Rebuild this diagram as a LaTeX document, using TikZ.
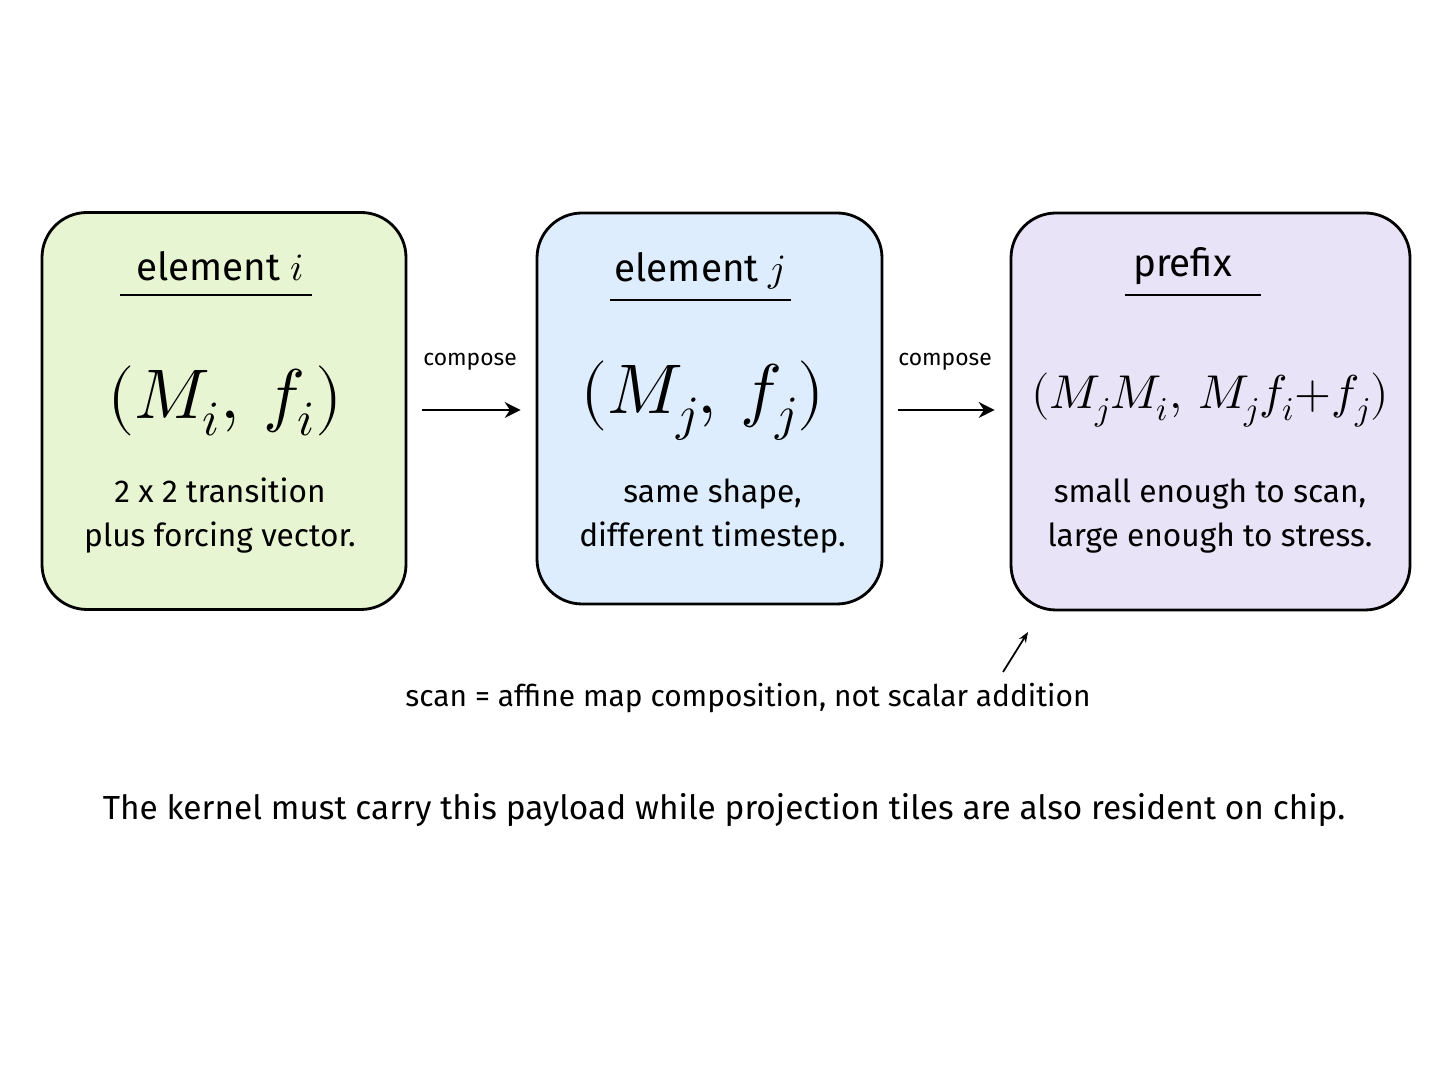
\documentclass[tikz,border=0pt]{standalone}
\usepackage{fontspec}
\usepackage{unicode-math}
\setmainfont{Fira Sans}
\setmathfont{Latin Modern Math}
\usetikzlibrary{positioning,arrows.meta}
\definecolor{boxgreen}{HTML}{E8F5D2}
\definecolor{boxblue}{HTML}{DDEDFD}
\definecolor{boxpurple}{HTML}{E8E3F6}
\tikzset{
  card/.style={draw=black, line width=1.6pt, rounded corners=0.9cm, inner sep=0pt},
  headtext/.style={font=\fontsize{22}{26}\selectfont},
  mathtext/.style={font=\fontsize{40}{44}\selectfont},
  desctext/.style={font=\fontsize{18}{25}\selectfont, align=center},
  composetext/.style={font=\fontsize{13}{16}\selectfont},
  flow/.style={-{Stealth[length=9pt,width=9pt]}, line width=1.4pt}
}
\begin{document}
\begin{tikzpicture}
\useasboundingbox (0,0) rectangle (28.96,21.72);

%BOXES
\node[card, fill=boxgreen, minimum width=7.28cm, minimum height=7.94cm] (elemi) at (4.48,13.5) {};
\node[card, fill=boxblue, minimum width=6.9cm, minimum height=7.82cm] (elemj) at (14.19,13.55) {};
\node[card, fill=boxpurple, minimum width=7.98cm, minimum height=7.94cm] (prefix) at (24.21,13.49) {};

%TITLES
\node[headtext] (ti) at (4.4,16.4) {element $i$};
\node[headtext] (tj) at (14.0,16.3) {element $j$};
\node[headtext] (tp) at (23.65,16.4) {prefix};
\draw[line width=1.2pt] (2.4,15.82) -- (6.24,15.82);
\draw[line width=1.2pt] (12.2,15.72) -- (15.82,15.72);
\draw[line width=1.2pt] (22.5,15.82) -- (25.22,15.82);

%PAYLOADS
\node[mathtext] (mi) at (4.5,13.7) {$(M_i,\,f_i)$};
\node[mathtext] (mj) at (14.05,13.7) {$(M_j,\,f_j)$};
\node[font=\fontsize{27}{30}\selectfont] (mp) at (24.2,13.72) {$(M_jM_i,\,M_jf_i{+}f_j)$};

%DESCRIPTIONS
\node[desctext] (di) at (4.4,11.4) {2 x 2 transition\\plus forcing vector.};
\node[desctext] (dj) at (14.25,11.4) {same shape,\\different timestep.};
\node[desctext] (dp) at (24.2,11.4) {small enough to scan,\\large enough to stress.};

%ARROWS
\draw[flow] (elemi.east |- 0,13.52) ++(0.3,0) -- ([xshift=-0.3cm]elemj.west |- 0,13.52);
\draw[flow] (elemj.east |- 0,13.52) ++(0.3,0) -- ([xshift=-0.3cm]prefix.west |- 0,13.52);
\node[composetext] (c1) at (9.4,14.48) {compose};
\node[composetext] (c2) at (18.9,14.48) {compose};

%CAPTIONS
\node[font=\fontsize{17}{20}\selectfont] (scan) at (14.96,7.76) {scan = affine map composition, not scalar addition};
\coordinate (tip) at (20.56,9.08);
\draw[-{Stealth[length=6pt]}, line width=1pt] (20.06,8.28) -- (tip);
\node[font=\fontsize{19}{22}\selectfont] (note) at (14.48,5.52) {The kernel must carry this payload while projection tiles are also resident on chip.};

\end{tikzpicture}
\end{document}
